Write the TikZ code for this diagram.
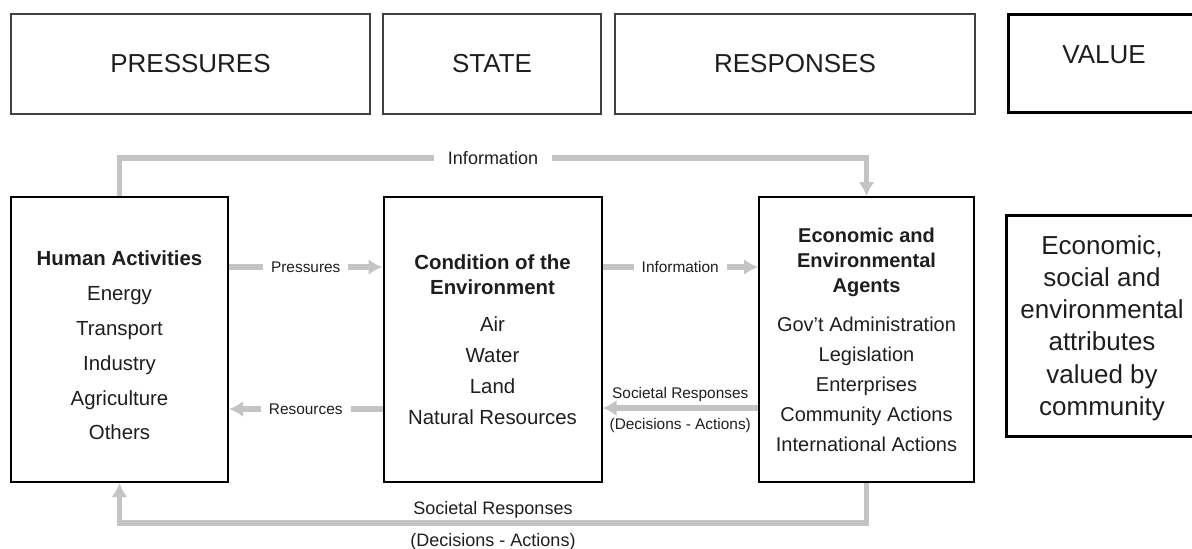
\documentclass[tikz,border=0pt]{standalone}
\usepackage{fontspec}
\setmainfont{Liberation Sans}
\usetikzlibrary{arrows.meta,positioning}
\definecolor{flowgray}{RGB}{196,196,196}
\definecolor{inkgray}{RGB}{30,30,30}

\begin{document}
\begin{tikzpicture}[x=0.5pt,y=-0.5pt,
    topbox/.style={draw=black!75,line width=0.7pt,inner sep=0pt,minimum height=50pt,
      font=\fontsize{13}{16}\selectfont,text=inkgray},
    mainbox/.style={draw=black,line width=1pt,inner sep=0pt,minimum height=142.5pt,
      align=center,text=inkgray},
    flow/.style={draw=flowgray,line width=2.8pt,-{Latex[length=7pt,width=8pt]}},
    lbl/.style={font=\fontsize{7.7}{9}\selectfont,text=inkgray,inner sep=1pt},
    biglbl/.style={font=\fontsize{9}{11}\selectfont,text=inkgray,inner sep=1pt}]
  \useasboundingbox (0,0) rectangle (1192,548);

  % headings
  \node[topbox,minimum width=179.5pt] (pres) at (190.5,64) {PRESSURES};
  \node[topbox,minimum width=109pt] (state) at (492,64) {STATE};
  \node[topbox,minimum width=180pt] (resp) at (795,64) {RESPONSES};
  \node[topbox,draw=black,line width=1.5pt,minimum width=96pt,minimum height=49pt,
    text height=10pt,text depth=10pt] (value) at (1104,63) {VALUE};

  % the three stages
  \node[mainbox,minimum width=108.5pt,font=\fontsize{10.2}{17.4}\selectfont] (human) at (119.5,339.5)
    {\rule{0pt}{13.4pt}\textbf{Human Activities}\\Energy\\Transport\\Industry\\Agriculture\\Others};
  \node[mainbox,minimum width=109pt,font=\fontsize{10.2}{15.5}\selectfont] (cond) at (492.5,339.5)
    {\textbf{Condition of the}\\[-3pt]\textbf{Environment}\\[3pt]Air\\Water\\Land\\Natural Resources};
  \node[mainbox,minimum width=107.5pt,font=\fontsize{10}{15}\selectfont] (agents) at (866.5,339.5)
    {\textbf{Economic and}\\[-2.5pt]\textbf{Environmental}\\[-2.5pt]\textbf{Agents}\\[4.5pt]
     Gov't Administration\\Legislation\\Enterprises\\Community Actions\\International Actions};
  \node[mainbox,line width=1.5pt,minimum width=96pt,minimum height=110.5pt,
    font=\fontsize{13}{16.1}\selectfont] (attrs) at (1102,325.5)
    {\rule{0pt}{12pt}Economic,\\social and\\environmental\\attributes\\valued by\\community};

  % flows
  \draw[flow] (human.north) -- (human.north |- 0,158)
    -- node[biglbl,fill=white,inner xsep=7pt] {Information} (agents.north |- 0,158)
    -- (agents.north);
  \draw[flow] (human.east |- 0,267) -- node[lbl,fill=white,inner xsep=4pt] {Pressures} (cond.west |- 0,267);
  \draw[flow] (cond.west |- 0,409) -- node[lbl,fill=white,inner xsep=4pt] {Resources} (human.east |- 0,409);
  \draw[flow] (cond.east |- 0,267) -- node[lbl,fill=white,inner xsep=4pt] {Information} (agents.west |- 0,267);
  \draw[flow] (agents.west |- 0,408)
    -- node[lbl,above=1pt] {Societal Responses}
       node[lbl,below=3pt] {(Decisions - Actions)} (cond.east |- 0,408);
  \draw[flow] (agents.south) -- (agents.south |- 0,523)
    -- node[biglbl,above=0pt] {Societal Responses}
       node[biglbl,below=3pt] {(Decisions - Actions)} (human.south |- 0,523)
    -- (human.south);
\end{tikzpicture}
\end{document}
